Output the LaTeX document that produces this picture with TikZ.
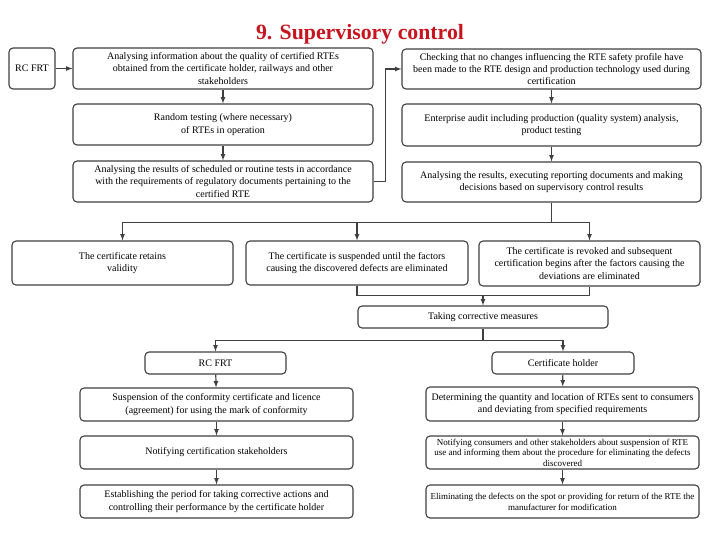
\documentclass[tikz,border=0pt]{standalone}
\usepackage{fontspec}
\setmainfont{Liberation Serif}
\usetikzlibrary{arrows.meta}

\begin{document}
\begin{tikzpicture}[x=1pt,y=-1pt,>=latex,
        stage/.style={draw=black!75,line width=1.1pt,rounded corners=4pt,fill=white,
            align=center,inner sep=1pt,font=\fontsize{10}{12.3}\selectfont},
        link/.style={draw=black!75,line width=1.2pt}]
                \useasboundingbox (0,0) rectangle (720,540);
                \node[anchor=base,font=\fontsize{21.8}{24}\selectfont\bfseries,text={rgb,255:red,200;green,20;blue,30}] (title) at (360,40) {9. Supervisory control};
                % upper part
                \node[stage,minimum width=46pt,minimum height=41pt] (rcfrt) at (32,68.5) {RC FRT};
                \node[stage,minimum width=300pt,minimum height=41pt] (info) at (223,68.5) {Analysing information about the quality of certified RTEs\\obtained from the certificate holder, railways and other\\stakeholders};
                \node[stage,minimum width=300pt,minimum height=41pt] (random) at (223,124.5) {Random testing (where necessary)\\of RTEs in operation};
                \node[stage,minimum width=300pt,minimum height=41pt] (routine) at (223,181.5) {Analysing the results of scheduled or routine tests in accordance\\with the requirements of regulatory documents pertaining to the\\certified RTE};
                \node[stage,minimum width=299pt,minimum height=40pt] (changes) at (551.5,69) {Checking that no changes influencing the RTE safety profile have\\been made to the RTE design and production technology used during\\certification};
                \node[stage,minimum width=299pt,minimum height=42pt] (audit) at (551.5,125) {Enterprise audit including production (quality system) analysis,\\product testing};
                \node[stage,minimum width=299pt,minimum height=40pt] (results) at (551.5,182) {Analysing the results, executing reporting documents and making\\decisions based on supervisory control results};
                % decisions
                \node[stage,minimum width=221pt,minimum height=44pt] (retains) at (122.5,263) {The certificate retains\\validity};
                \node[stage,minimum width=222pt,minimum height=44pt] (suspended) at (357,263) {The certificate is suspended until the factors\\causing the discovered defects are eliminated};
                \node[stage,minimum width=221pt,minimum height=45pt] (revoked) at (589.5,263.5) {The certificate is revoked and subsequent\\certification begins after the factors causing the\\deviations are eliminated};
                \node[stage,minimum width=250pt,minimum height=22pt] (measures) at (483,317) {Taking corrective measures};
                % lower part
                \node[stage,minimum width=141pt,minimum height=22pt] (rcfrtlow) at (215.5,363) {RC FRT};
                \node[stage,minimum width=142pt,minimum height=22pt] (holder) at (563,363) {Certificate holder};
                \node[stage,minimum width=273pt,minimum height=33pt] (suspension) at (216.5,404.5) {Suspension of the conformity certificate and licence\\(agreement) for using the mark of conformity};
                \node[stage,minimum width=273pt,minimum height=33pt] (notify) at (216.5,452.5) {Notifying certification stakeholders};
                \node[stage,minimum width=273pt,minimum height=33pt] (period) at (216.5,501.5) {Establishing the period for taking corrective actions and\\controlling their performance by the certificate holder};
                \node[stage,minimum width=273pt,minimum height=34pt] (quantity) at (562.5,404) {Determining the quantity and location of RTEs sent to consumers\\and deviating from specified requirements};
                \node[stage,minimum width=273pt,minimum height=33pt,font=\fontsize{9}{10.6}\selectfont] (consumers) at (562.5,452.5) {Notifying consumers and other stakeholders about suspension of RTE\\use and informing them about the procedure for eliminating the defects\\discovered};
                \node[stage,minimum width=273pt,minimum height=33pt,font=\fontsize{9}{11.2}\selectfont] (eliminate) at (562.5,501.5) {Eliminating the defects on the spot or providing for return of the RTE the\\manufacturer for modification};
                % connectors
                \draw[link,->] (rcfrt) -- (info);
                \draw[link,->] (info) -- (random);
                \draw[link,->] (random) -- (routine);
                \draw[link,->] (routine.east) -- ++(12,0) |- (changes.west);
                \draw[link,->] (changes) -- (audit);
                \draw[link,->] (audit) -- (results);
                \draw[link] (results.south) -- ++(0,20) coordinate (split1);
                \draw[link,->] (split1) -| (retains.north);
                \draw[link,->] (split1) -| (revoked.north);
                \draw[link,->] (suspended.north |- split1) -- (suspended.north);
                \path (suspended.south) ++(0,10) coordinate (join1);
                \draw[link] (suspended.south) -- (join1) -| (revoked.south);
                \draw[link,->] (measures.north |- join1) -- (measures.north);
                \draw[link] (measures.south) -- ++(0,12) coordinate (split2);
                \draw[link,->] (split2) -| (rcfrtlow.north);
                \draw[link,->] (split2) -| (holder.north);
                \draw[link,->] (rcfrtlow) -- (suspension);
                \draw[link,->] (suspension) -- (notify);
                \draw[link,->] (notify) -- (period);
                \draw[link,->] (holder) -- (quantity);
                \draw[link,->] (quantity) -- (consumers);
                \draw[link,->] (consumers) -- (eliminate);
            \end{tikzpicture}
\end{document}
